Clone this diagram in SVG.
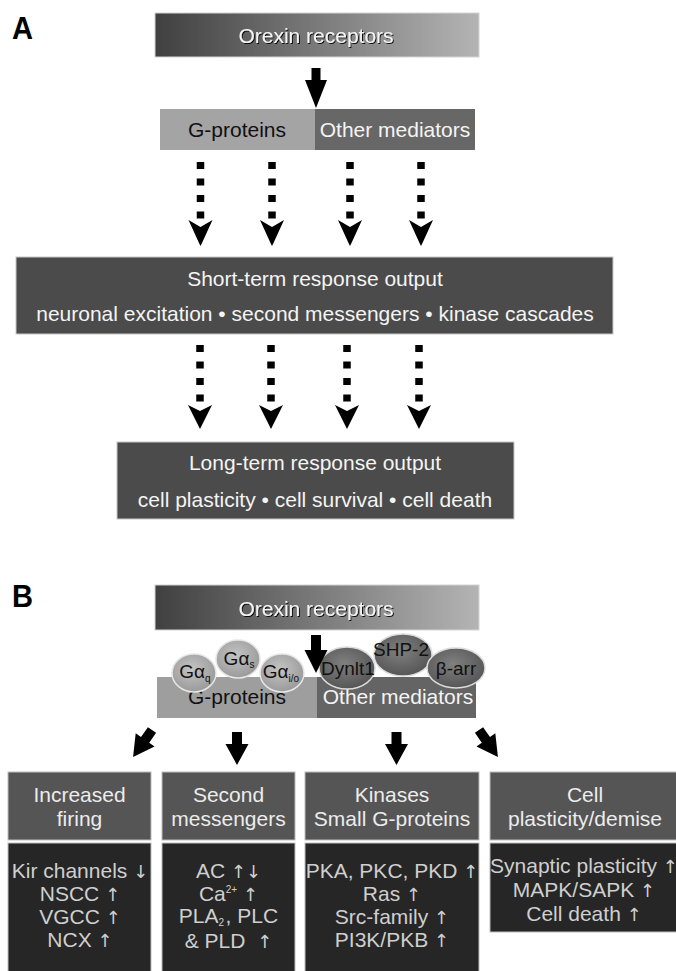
<svg xmlns="http://www.w3.org/2000/svg" xmlns:xlink="http://www.w3.org/1999/xlink" width="676" height="971" viewBox="0 0 676 971">
  <style>
    text { font-family: "Liberation Sans", Arial, sans-serif; text-anchor: middle; }
    .panel { font-size: 32px; font-weight: bold; text-anchor: start; fill: #000; }
    .t21 { font-size: 21px; }
    .t19 { font-size: 19px; fill: #111; }
    .wht { fill: #f4f4f4; }
    .blk { fill: #111; }
    .hdr { fill: #555555; stroke: #bdbdbd; stroke-width: 1; }
    .body { fill: #262626; stroke: #bdbdbd; stroke-width: 1; }
    .out { fill: #4b4b4b; stroke: #c8c8c8; stroke-width: 1; }
    .htxt { font-size: 21px; fill: #ececec; }
    .btxt { font-size: 21px; fill: #cfcfcf; }
    .ar { font-family: "DejaVu Sans", sans-serif; font-size: 18px; fill: #cfcfcf; }
    .dash { stroke: #000; stroke-width: 7.5; stroke-dasharray: 7 9.5; fill: none; }
    .ah { fill: #000; }
    .gell { fill: url(#gG); stroke: #e6e6e6; stroke-width: 1.5; }
    .mell { fill: url(#gM); stroke: #dcdcdc; stroke-width: 1.5; }
  </style>
  <defs>
    <linearGradient id="rec" x1="0" y1="0" x2="1" y2="0">
      <stop offset="0" stop-color="#404040"/>
      <stop offset="1" stop-color="#b4b4b4"/>
    </linearGradient>
    <radialGradient id="gG" cx="0.45" cy="0.4" r="0.6">
      <stop offset="0" stop-color="#c4c4c4"/>
      <stop offset="1" stop-color="#9a9a9a"/>
    </radialGradient>
    <radialGradient id="gM" cx="0.45" cy="0.4" r="0.6">
      <stop offset="0" stop-color="#808080"/>
      <stop offset="1" stop-color="#565656"/>
    </radialGradient>
    <filter id="sh" x="-10%" y="-30%" width="120%" height="160%">
      <feDropShadow dx="1" dy="1" stdDeviation="0.6" flood-color="#000" flood-opacity="0.9"/>
    </filter>
    <path id="dhead" d="M0,7 L12,0 L1.5,23 L0,26 L-1.5,23 L-12,0 Z"/>
    <path id="dhead2" d="M0,6 L12,0 L1.5,21 L0,24 L-1.5,21 L-12,0 Z"/>
    <path id="fat" d="M-5,0 H5 V12 H11.5 L0,33 L-11.5,12 H-5 Z"/>
  </defs>

  <rect x="0" y="0" width="676" height="971" fill="#fff"/>

  <text class="panel" x="12" y="39" textLength="21" lengthAdjust="spacingAndGlyphs">A</text>
  <text class="panel" x="12" y="607" textLength="21" lengthAdjust="spacingAndGlyphs">B</text>

  <!-- Panel A nodes -->
  <g id="a-orexin">
    <rect x="155" y="13" width="324" height="44" fill="url(#rec)" stroke="#d4d4d4"/>
    <text class="t21 wht" x="316" y="43" filter="url(#sh)">Orexin receptors</text>
  </g>
  <g id="a-gproteins">
    <rect x="160" y="109" width="155" height="41" fill="#a4a4a4"/>
    <text class="t21 blk" x="237" y="137">G-proteins</text>
  </g>
  <g id="a-other">
    <rect x="315" y="109" width="160" height="41" fill="#676767"/>
    <text class="t21 wht" x="395" y="137">Other mediators</text>
  </g>
  <g id="a-short">
    <rect class="out" x="16" y="257" width="597" height="77"/>
    <text class="t21 wht" x="315" y="286">Short-term response output</text>
    <text class="t21 wht" x="315" y="321">neuronal excitation • second messengers • kinase cascades</text>
  </g>
  <g id="a-long">
    <rect class="out" x="117" y="442" width="397" height="77"/>
    <text class="t21 wht" x="315" y="470">Long-term response output</text>
    <text class="t21 wht" x="315" y="507">cell plasticity • cell survival • cell death</text>
  </g>

  <!-- Panel B nodes -->
  <g id="b-orexin">
    <rect x="155" y="585" width="324" height="45" fill="url(#rec)" stroke="#d4d4d4"/>
    <text class="t21 wht" x="316" y="616" filter="url(#sh)">Orexin receptors</text>
  </g>
  <g id="b-gproteins">
    <rect x="157" y="677" width="160" height="41" fill="#9e9e9e"/>
    <text class="t21 blk" x="237" y="704">G-proteins</text>
  </g>
  <g id="b-other">
    <rect x="317" y="677" width="159" height="41" fill="#646464"/>
    <text class="t21 wht" x="398" y="704">Other mediators</text>
  </g>
  <g id="b-gaq">
    <ellipse class="gell" cx="194" cy="673" rx="22" ry="19"/>
    <text class="t19" x="195" y="678">Gα<tspan font-size="10" dy="4">q</tspan></text>
  </g>
  <g id="b-gas">
    <ellipse class="gell" cx="238" cy="659" rx="22" ry="19"/>
    <text class="t19" x="239" y="665">Gα<tspan font-size="10" dy="3">s</tspan></text>
  </g>
  <g id="b-gaio">
    <ellipse class="gell" cx="282" cy="673" rx="22" ry="19"/>
    <text class="t19" x="281" y="678">Gα<tspan font-size="10" dy="4">i/o</tspan></text>
  </g>
  <g id="b-dynlt1">
    <ellipse class="mell" cx="347" cy="668" rx="28" ry="21"/>
    <text class="t19" x="348" y="675">Dynlt1</text>
  </g>
  <g id="b-shp2">
    <ellipse class="mell" cx="403" cy="655" rx="29" ry="21"/>
    <text class="t19" x="401" y="656">SHP-2</text>
  </g>
  <g id="b-barr">
    <ellipse class="mell" cx="456" cy="668" rx="29" ry="20"/>
    <text class="t19" x="456" y="675">β-arr</text>
  </g>

  <g id="b-firing">
    <rect class="hdr" x="8" y="772" width="143" height="68"/>
    <text class="htxt" x="79.5" y="802">Increased</text>
    <text class="htxt" x="79.5" y="826">firing</text>
    <rect class="body" x="8" y="843" width="143" height="135"/>
    <text class="btxt" x="80" y="878">Kir channels <tspan class="ar">↓</tspan></text>
    <text class="btxt" x="80" y="901">NSCC <tspan class="ar">↑</tspan></text>
    <text class="btxt" x="80" y="924">VGCC <tspan class="ar">↑</tspan></text>
    <text class="btxt" x="80" y="947">NCX <tspan class="ar">↑</tspan></text>
  </g>
  <g id="b-second">
    <rect class="hdr" x="162" y="772" width="133" height="68"/>
    <text class="htxt" x="228.5" y="802">Second</text>
    <text class="htxt" x="228.5" y="826">messengers</text>
    <rect class="body" x="162" y="843" width="133" height="135"/>
    <text class="btxt" x="228.5" y="878">AC <tspan class="ar">↑↓</tspan></text>
    <text class="btxt" x="228.5" y="901">Ca<tspan font-size="10" baseline-shift="8">2+</tspan> <tspan class="ar">↑</tspan></text>
    <text class="btxt" x="228.5" y="923">PLA<tspan font-size="10" baseline-shift="-3">2</tspan><tspan dx="1.5">, PLC</tspan></text>
    <text class="btxt" x="228.5" y="948">&amp; PLD&#160; <tspan class="ar">↑</tspan></text>
  </g>
  <g id="b-kinases">
    <rect class="hdr" x="305" y="772" width="174" height="68"/>
    <text class="htxt" x="392" y="802">Kinases</text>
    <text class="htxt" x="392" y="826">Small G-proteins</text>
    <rect class="body" x="305" y="843" width="174" height="135"/>
    <text class="btxt" x="392" y="878">PKA, PKC, PKD <tspan class="ar">↑</tspan></text>
    <text class="btxt" x="392" y="901">Ras <tspan class="ar">↑</tspan></text>
    <text class="btxt" x="392" y="924">Src-family <tspan class="ar">↑</tspan></text>
    <text class="btxt" x="392" y="947">PI3K/PKB <tspan class="ar">↑</tspan></text>
  </g>
  <g id="b-cell">
    <rect class="hdr" x="490" y="772" width="192" height="68"/>
    <text class="htxt" x="585" y="802">Cell</text>
    <text class="htxt" x="585" y="826">plasticity/demise</text>
    <rect class="body" x="490" y="843" width="192" height="89"/>
    <text class="btxt" x="584" y="873">Synaptic plasticity <tspan class="ar">↑</tspan></text>
    <text class="btxt" x="584" y="897">MAPK/SAPK <tspan class="ar">↑</tspan></text>
    <text class="btxt" x="584" y="921">Cell death <tspan class="ar">↑</tspan></text>
  </g>

  <!-- Connectors -->
  <g id="connectors">
    <path class="ah" d="M311.5,68 H320.5 V80 H327 L316,108 L305,80 H311.5 Z"/>

    <line class="dash" x1="200.5" y1="162" x2="200.5" y2="219"/>
    <line class="dash" x1="272" y1="162" x2="272" y2="219"/>
    <line class="dash" x1="350" y1="162" x2="350" y2="219"/>
    <line class="dash" x1="421" y1="162" x2="421" y2="219"/>
    <use class="ah" xlink:href="#dhead" x="200.5" y="220"/>
    <use class="ah" xlink:href="#dhead" x="272" y="220"/>
    <use class="ah" xlink:href="#dhead" x="350" y="220"/>
    <use class="ah" xlink:href="#dhead" x="421" y="220"/>

    <line class="dash" x1="200" y1="345" x2="200" y2="402"/>
    <line class="dash" x1="271" y1="345" x2="271" y2="402"/>
    <line class="dash" x1="347" y1="345" x2="347" y2="402"/>
    <line class="dash" x1="419" y1="345" x2="419" y2="402"/>
    <use class="ah" xlink:href="#dhead2" x="200" y="405"/>
    <use class="ah" xlink:href="#dhead2" x="271" y="405"/>
    <use class="ah" xlink:href="#dhead2" x="347" y="405"/>
    <use class="ah" xlink:href="#dhead2" x="419" y="405"/>

    <path class="ah" d="M311,635 H321 V650 H327.5 L316,673 L304.5,650 H311 Z"/>

    <use class="ah" xlink:href="#fat" transform="translate(152,730) rotate(35)"/>
    <use class="ah" xlink:href="#fat" transform="translate(237,732)"/>
    <use class="ah" xlink:href="#fat" transform="translate(396.5,732)"/>
    <use class="ah" xlink:href="#fat" transform="translate(479,730) rotate(-35)"/>
  </g>
</svg>
